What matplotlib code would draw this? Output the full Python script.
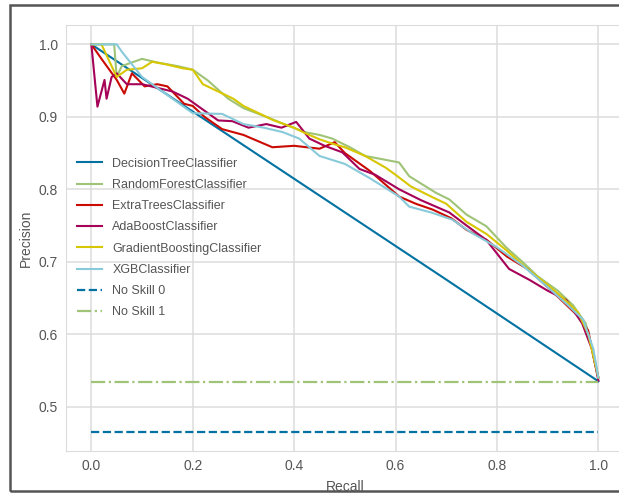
import matplotlib
matplotlib.use("Agg")
import matplotlib.pyplot as plt
from matplotlib.patches import Rectangle

# Precision-recall curves
dt_recall = [0.0, 0.69, 1.0]
dt_precision = [1.0, 0.68, 0.535]

rf_recall = [0, 0.045, 0.05, 0.06, 0.08, 0.1, 0.13, 0.17, 0.2, 0.23, 0.27, 0.3, 0.345, 0.38,
             0.42, 0.45, 0.475, 0.51, 0.54, 0.57, 0.607, 0.627, 0.65, 0.68, 0.706, 0.74, 0.779,
             0.818, 0.85, 0.88, 0.92, 0.95, 0.975, 0.99, 1.0]
rf_precision = [1.0, 1.0, 0.955, 0.97, 0.975, 0.98, 0.975, 0.97, 0.965, 0.95, 0.925, 0.912, 0.9,
                0.89, 0.879, 0.875, 0.87, 0.858, 0.846, 0.842, 0.837, 0.818, 0.808, 0.795, 0.786,
                0.765, 0.749, 0.72, 0.7, 0.68, 0.66, 0.64, 0.615, 0.575, 0.54]

et_recall = [0, 0.02, 0.05, 0.065, 0.08, 0.105, 0.13, 0.15, 0.183, 0.2, 0.223, 0.258, 0.3, 0.357,
             0.4, 0.45, 0.48, 0.5, 0.55, 0.607, 0.64, 0.673, 0.71, 0.74, 0.78, 0.82, 0.86, 0.9,
             0.93, 0.96, 0.98, 0.99, 1.0]
et_precision = [1.0, 0.98, 0.951, 0.932, 0.96, 0.942, 0.945, 0.942, 0.918, 0.915, 0.9, 0.883,
                0.875, 0.858, 0.86, 0.856, 0.865, 0.85, 0.825, 0.79, 0.78, 0.772, 0.76, 0.744,
                0.73, 0.707, 0.69, 0.665, 0.645, 0.625, 0.605, 0.57, 0.54]

ada_recall = [0, 0.012, 0.026, 0.03, 0.04, 0.05, 0.07, 0.1, 0.13, 0.16, 0.19, 0.22, 0.25, 0.278,
              0.31, 0.345, 0.375, 0.404, 0.43, 0.46, 0.495, 0.529, 0.56, 0.607, 0.65, 0.706, 0.74,
              0.779, 0.824, 0.864, 0.9, 0.937, 0.968, 0.988, 1.0]
ada_precision = [1.0, 0.914, 0.951, 0.925, 0.955, 0.96, 0.945, 0.945, 0.94, 0.935, 0.925, 0.91,
                 0.895, 0.894, 0.885, 0.89, 0.885, 0.893, 0.87, 0.86, 0.851, 0.828, 0.82, 0.8,
                 0.785, 0.768, 0.75, 0.73, 0.69, 0.675, 0.66, 0.647, 0.615, 0.578, 0.536]

gb_recall = [0, 0.02, 0.05, 0.07, 0.1, 0.12, 0.15, 0.18, 0.2, 0.22, 0.25, 0.28, 0.3, 0.33, 0.36,
             0.4, 0.42, 0.45, 0.48, 0.5, 0.54, 0.58, 0.6, 0.63, 0.67, 0.7, 0.74, 0.78, 0.82, 0.86,
             0.9, 0.93, 0.96, 0.98, 0.99, 1.0]
gb_precision = [1.0, 1.0, 0.955, 0.965, 0.967, 0.976, 0.972, 0.967, 0.965, 0.945, 0.935, 0.925,
                0.915, 0.905, 0.895, 0.885, 0.878, 0.869, 0.862, 0.858, 0.846, 0.83, 0.82, 0.804,
                0.79, 0.78, 0.755, 0.738, 0.715, 0.69, 0.668, 0.65, 0.63, 0.6, 0.57, 0.54]

xgb_recall = [0, 0.05, 0.06, 0.1, 0.15, 0.2, 0.258, 0.3, 0.34, 0.377, 0.41, 0.45, 0.5, 0.55,
              0.607, 0.627, 0.67, 0.712, 0.75, 0.8, 0.85, 0.9, 0.94, 0.97, 0.99, 1.0]
xgb_precision = [1.0, 1.0, 0.99, 0.955, 0.93, 0.905, 0.904, 0.89, 0.885, 0.879, 0.87, 0.846,
                 0.835, 0.815, 0.79, 0.776, 0.768, 0.758, 0.74, 0.72, 0.695, 0.665, 0.64, 0.62,
                 0.58, 0.54]

no_skill_x = [0, 1]
no_skill_0 = 0.4655
no_skill_1 = 0.5345

names = ['DecisionTreeClassifier', 'RandomForestClassifier', 'ExtraTreesClassifier',
         'AdaBoostClassifier', 'GradientBoostingClassifier', 'XGBClassifier']
colors = ['#0272a2', '#9fc377', '#ca0b03', '#a50258', '#d7c703', '#88cada']

plt.rcParams['font.family'] = ['Liberation Sans', 'DejaVu Sans']
plt.rcParams['text.color'] = '#555555'
plt.rcParams['axes.labelcolor'] = '#555555'
plt.rcParams['xtick.color'] = '#555555'
plt.rcParams['ytick.color'] = '#555555'

fig = plt.figure(figsize=(6.19, 4.94), dpi=100)
ax = fig.add_axes([66 / 619, 43 / 494, 557.7 / 619, 426 / 494])

curves = [(dt_recall, dt_precision), (rf_recall, rf_precision), (et_recall, et_precision),
          (ada_recall, ada_precision), (gb_recall, gb_precision), (xgb_recall, xgb_precision)]
for (r, p), name, c in zip(curves, names, colors):
    ax.plot(r, p, color=c, lw=1.5, label=name)

ax.plot(no_skill_x, [no_skill_0] * 2, ls='--', color=colors[0], lw=1.6, label='No Skill 0')
ax.plot(no_skill_x, [no_skill_1] * 2, ls='-.', color=colors[1], lw=1.6, label='No Skill 1')

ax.set_xlim(-0.05, 1.05)
ax.grid(True, color='#dcdcdc', lw=1.1)
ax.set_axisbelow(True)
for s in ax.spines.values():
    s.set_color('#dcdcdc')
ax.tick_params(length=0, pad=6, labelsize=10)
ax.set_xlabel('Recall', fontsize=10, labelpad=5)
ax.set_ylabel('Precision', fontsize=10)
ax.legend(loc='center left', frameon=False, fontsize=9, labelspacing=0.74)

# dark frame around the whole figure, open on the cropped right side
fig.patches.append(Rectangle((10 / 619, 3 / 494), 1.1, 486 / 494, transform=fig.transFigure,
                             fill=False, edgecolor='#555555', lw=1.8))

fig.savefig('out.png', dpi=100)
